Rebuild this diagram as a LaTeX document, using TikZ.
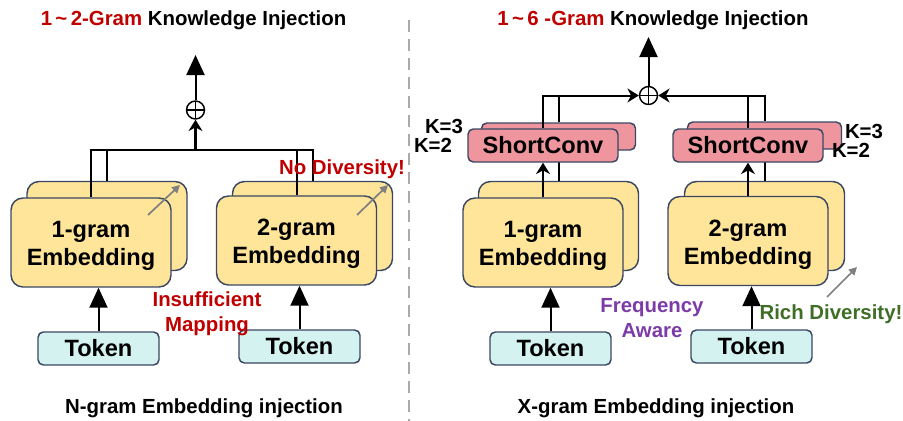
\documentclass[tikz,border=0pt]{standalone}
\usepackage{fontspec}
\setmainfont{Liberation Sans}
\usetikzlibrary{arrows.meta,calc}

\definecolor{cardfill}{HTML}{FFE599}
\definecolor{cardline}{HTML}{3A4763}
\definecolor{tokfill}{HTML}{D3F2F0}
\definecolor{convfill}{HTML}{EE959E}
\definecolor{alert}{HTML}{C00000}
\definecolor{freq}{HTML}{7B3BA8}
\definecolor{rich}{HTML}{3F6E26}
\definecolor{sepgray}{HTML}{AAAAAA}
\definecolor{hint}{HTML}{808080}

% taller first line so the two-line card label sits a little lower
\newcommand{\cardlift}{\rule{0pt}{17.5pt}}

\begin{document}
\begin{tikzpicture}[x=0.75pt,y=-0.75pt,
  big/.style={font=\fontsize{17.7}{21}\selectfont\bfseries},
  mid/.style={font=\fontsize{15.3}{18.75}\selectfont\bfseries},
  card/.style={draw=cardline, line width=1.1pt, fill=cardfill, rounded corners=9pt,
    minimum width=120pt, minimum height=66.75pt, inner sep=0pt, align=center, big},
  tok/.style={draw=cardline, line width=1.1pt, fill=tokfill, rounded corners=4pt,
    minimum width=90.75pt, minimum height=24.75pt, inner sep=0pt, big},
  conv/.style={draw=cardline, line width=1.1pt, fill=convfill, rounded corners=4pt,
    inner sep=0pt, big},
  convfront/.style={conv, minimum width=112.5pt, minimum height=24.75pt},
  convback/.style={conv, minimum width=115.5pt, minimum height=20.25pt},
  sum/.style={circle, draw, line width=1.1pt, minimum size=13.5pt, inner sep=0pt,
    path picture={\draw[line width=1.1pt]
      (path picture bounding box.north) -- (path picture bounding box.south)
      (path picture bounding box.west) -- (path picture bounding box.east);}},
  wire/.style={line width=1.5pt},
  feed/.style={wire, -{Triangle[width=13.5pt,length=15pt]}},
  merge/.style={wire, -{Stealth[width=10.5pt,length=8.5pt]}},
  hintarrow/.style={draw=hint, line width=1.3pt, -{Triangle[width=6pt,length=6pt]}},
  sepline/.style={draw=sepgray, line width=1.9pt, dash pattern=on 9pt off 5.25pt},
]
\useasboundingbox (0,0) rectangle (903,421);

% ---------------- left panel: N-gram embedding injection ----------------
\node[mid, anchor=base] (title1) at (193.5,26)
  {\textcolor{alert}{1\,\textasciitilde\,2-Gram} Knowledge Injection};

\node[card] (e1b) at (107,226) {};
\node[card] (e1f) at (91,242.5) {\cardlift 1-gram\\Embedding};
\node[card] (e2b) at (312.5,226) {};
\node[card] (e2f) at (296.5,240.5) {\cardlift 2-gram\\Embedding};

\node[tok] (t1) at (98.5,348.5) {Token};
\node[tok] (t2) at (299.5,346.5) {Token};
\draw[feed] (t1.north) -- (t1.north |- e1f.south);
\draw[feed] (t2.north) -- (t2.north |- e2f.south);

\node[sum] (s1) at (195.5,110) {};
\coordinate (bar1) at (195.5,150);
\coordinate (top1) at (195.5,55);
\draw[wire] (e1f.north) -- (e1f.north |- bar1) -- (e2b.north |- bar1) -- (e2b.north);
\draw[wire] (e1b.north) -- (e1b.north |- bar1);
\draw[wire] (e2f.north) -- (e2f.north |- bar1);
\draw[merge, line width=2.2pt] (bar1) -- (s1.south);
\draw[feed] (s1.north) -- (top1);

% gray hints inside the stacked tables
\coordinate (h1a) at (148,215); \coordinate (h1b) at (180,185);
\coordinate (h2a) at (357,215); \coordinate (h2b) at (388,185);
\draw[hintarrow] (h1a) -- (h1b);
\draw[hintarrow] (h2a) -- (h2b);

\node[mid, text=alert] (nodiv) at (342,169) {No Diversity!};
\node[mid, text=alert, align=center] (insuf) at (207,314) {Insufficient\\Mapping};
\node[mid, anchor=base] (cap1) at (204,413) {N-gram Embedding injection};

% ---------------- separator ----------------
\coordinate (septop) at (409,20);
\coordinate (sepbot) at (409,421);
\draw[sepline] (septop) -- (sepbot);

% ---------------- right panel: X-gram embedding injection ----------------
\node[mid, anchor=base] (title2) at (653,26)
  {\textcolor{alert}{1\,\textasciitilde\,6 -Gram} Knowledge Injection};

\node[card] (e3b) at (558.5,226) {};
\node[card] (e3f) at (543,242.5) {\cardlift 1-gram\\Embedding};
\node[card] (e4b) at (764.5,226) {};
\node[card] (e4f) at (748,241) {\cardlift 2-gram\\Embedding};

\node[tok] (t3) at (550.5,348.5) {Token};
\node[tok] (t4) at (751.5,346.5) {Token};
\draw[feed] (t3.north) -- (t3.north |- e3f.south);
\draw[feed] (t4.north) -- (t4.north |- e4f.south);

% stacked short convolutions (K=3 behind, K=2 in front)
\node[convback] (c1b) at (558.5,136.5) {};
\node[convback] (c2b) at (764.5,135.5) {};
\draw[merge] (e3b.north) -- (e3b.north |- c1b.south);
\draw[merge] (e4b.north) -- (e4b.north |- c2b.south);
\node[convfront] (c1f) at (543,145.5) {ShortConv};
\node[convfront] (c2f) at (748,145.5) {ShortConv};
\draw[merge] (e3f.north) -- (e3f.north |- c1f.south);
\draw[merge] (e4f.north) -- (e4f.north |- c2f.south);

\node[sum] (s2) at (648.5,95.5) {};
\coordinate (top2) at (648.5,37);
\draw[merge] (c1f.north) |- (s2.west);
\draw[wire] (c1b.north) -- (c1b.north |- s2.center);
\draw[merge] (c2b.north) |- (s2.east);
\draw[wire] (c2f.north) -- (c2f.north |- s2.center);
\draw[feed] (s2.north) -- (top2);

\node[mid, anchor=base] (k3l) at (444,133) {K=3};
\node[mid, anchor=base] (k2l) at (433,152) {K=2};
\node[mid, anchor=base] (k3r) at (864,138) {K=3};
\node[mid, anchor=base] (k2r) at (851,157) {K=2};

\coordinate (h3a) at (827,297); \coordinate (h3b) at (857,267);
\draw[hintarrow] (h3a) -- (h3b);

\node[mid, text=freq, align=center] (freqaw) at (652,318) {Frequency\\Aware};
\node[mid, text=rich, anchor=base] (richdiv) at (831,319) {Rich Diversity!};
\node[mid, anchor=base] (cap2) at (656,413) {X-gram Embedding injection};
\end{tikzpicture}
\end{document}
